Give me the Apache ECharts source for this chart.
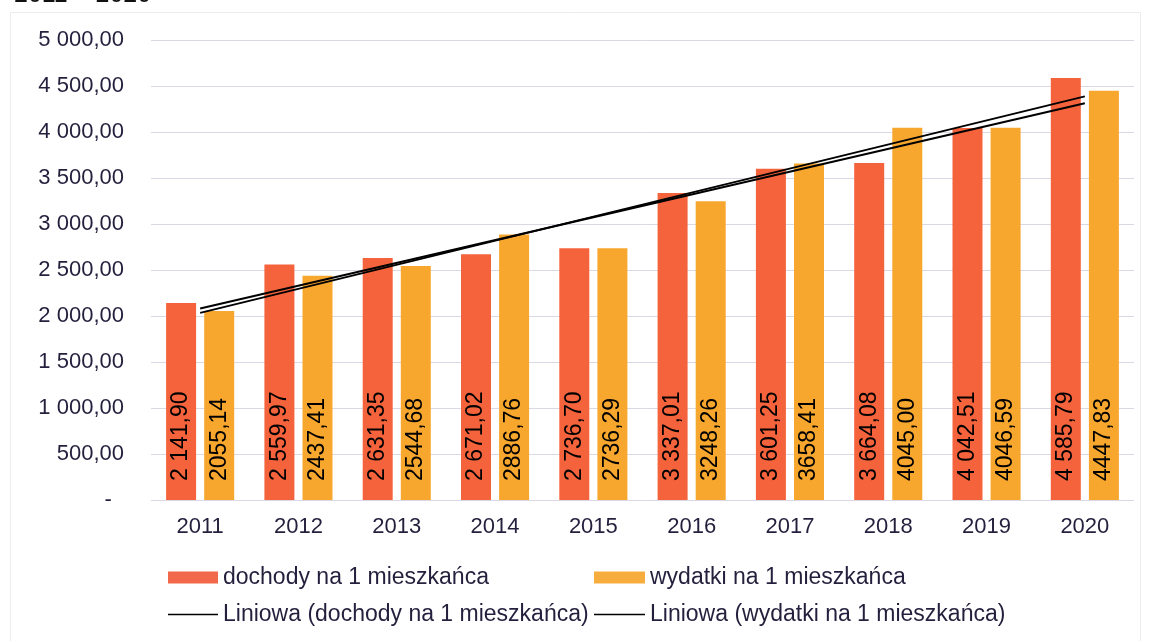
<!DOCTYPE html>
<html>
<head>
<meta charset="utf-8">
<script src="https://cdn.jsdelivr.net/npm/echarts@6/dist/echarts.min.js"></script>
<style>
  html, body { margin: 0; padding: 0; background: #fff; }
  #chart { width: 1151px; height: 641px; }
</style>
</head>
<body>
<div id="chart"></div>
<script>
const years = ['2011', '2012', '2013', '2014', '2015', '2016', '2017', '2018', '2019', '2020'];
const dochody = [2141.90, 2559.97, 2631.35, 2671.02, 2736.70, 3337.01, 3601.25, 3664.08, 4042.51, 4585.79];
const wydatki = [2055.14, 2437.41, 2544.68, 2886.76, 2736.29, 3248.26, 3658.41, 4045.00, 4046.59, 4447.83];
// trend lines (Excel "Liniowa"), end values at 2011 and 2020
const trendDochody = [2081, 4313];
const trendWydatki = [2034, 4387];

const nameD = 'dochody na 1 mieszkańca';
const nameW = 'wydatki na 1 mieszkańca';
const nameTD = 'Liniowa (dochody na 1 mieszkańca)';
const nameTW = 'Liniowa (wydatki na 1 mieszkańca)';

const textColor = '#241f3c';
const font = 'Liberation Sans, Arial, sans-serif';

// 2 141,90 style
function fmtSpace (v) {
  const parts = v.toFixed(2).split('.');
  return parts[0].replace(/\B(?=(\d{3})+(?!\d))/g, ' ') + ',' + parts[1];
}
function fmtPlain (v) {
  return v.toFixed(2).replace('.', ',');
}

const chart = echarts.init(document.getElementById('chart'));

const labelBase = {
  show: true,
  position: 'insideBottom',
  rotate: 90,
  align: 'left',
  verticalAlign: 'middle',
  distance: 19,
  color: '#000',
  fontSize: 23,
  fontFamily: font
};

function legendItem (name, left, top, icon, w, h, color) {
  return {
    data: [{ name: name, icon: icon, itemStyle: { color: color, borderWidth: 0 } }],
    left: left,
    top: top,
    itemWidth: w,
    itemHeight: h,
    itemGap: 0,
    padding: 0,
    selectedMode: false,
    textStyle: { color: textColor, fontSize: 23, fontFamily: font, padding: [0, 0, 0, 0] }
  };
}

chart.setOption({
  backgroundColor: '#fff',
  animation: false,
  title: {
    text: '2011 – 2020',
    left: 9,
    top: -22,
    textStyle: { color: '#111', fontSize: 25, fontWeight: 'normal', fontFamily: font }
  },
  graphic: [{
    type: 'rect',
    shape: { x: 10.5, y: 12.5, width: 1130, height: 640 },
    style: { fill: 'none', stroke: '#ececec', lineWidth: 1 },
    silent: true
  }],
  grid: { left: 151, right: 17, top: 40, bottom: 141 },
  legend: [
    legendItem(nameD, 168, 566, 'rect', 50, 12, '#f1694a'),
    legendItem(nameW, 594, 566, 'rect', 51, 12, '#f7ad3e'),
    legendItem(nameTD, 168, 603, 'rect', 50, 1.5, '#000'),
    legendItem(nameTW, 594, 603, 'rect', 51, 1.5, '#000')
  ],
  xAxis: {
    type: 'category',
    data: years,
    axisLine: { show: false },
    axisTick: { show: false },
    axisLabel: { color: textColor, fontSize: 22, fontFamily: font, margin: 16 }
  },
  yAxis: {
    type: 'value',
    min: 0,
    max: 5000,
    interval: 500,
    axisLine: { show: false },
    axisTick: { show: false },
    axisLabel: {
      color: textColor,
      fontSize: 22,
      fontFamily: font,
      margin: 27,
      formatter: v => v === 0 ? '-  ' : fmtSpace(v)
    },
    splitLine: { lineStyle: { color: '#dcd7e4', width: 1 } }
  },
  series: [
    {
      name: nameD,
      type: 'bar',
      data: dochody,
      barWidth: 30,
      barGap: '27%',
      itemStyle: { color: '#f5633c' },
      label: Object.assign({}, labelBase, { formatter: p => fmtSpace(p.value) })
    },
    {
      name: nameW,
      type: 'bar',
      data: wydatki,
      barWidth: 30,
      barGap: '27%',
      itemStyle: { color: '#f8a72e' },
      label: Object.assign({}, labelBase, { formatter: p => fmtPlain(p.value) })
    },
    {
      name: nameTD,
      type: 'line',
      data: [[0, trendDochody[0]], [years.length - 1, trendDochody[1]]],
      symbol: 'none',
      lineStyle: { color: '#000', width: 2 },
      z: 5
    },
    {
      name: nameTW,
      type: 'line',
      data: [[0, trendWydatki[0]], [years.length - 1, trendWydatki[1]]],
      symbol: 'none',
      lineStyle: { color: '#000', width: 2 },
      z: 5
    }
  ]
});
</script>
</body>
</html>
